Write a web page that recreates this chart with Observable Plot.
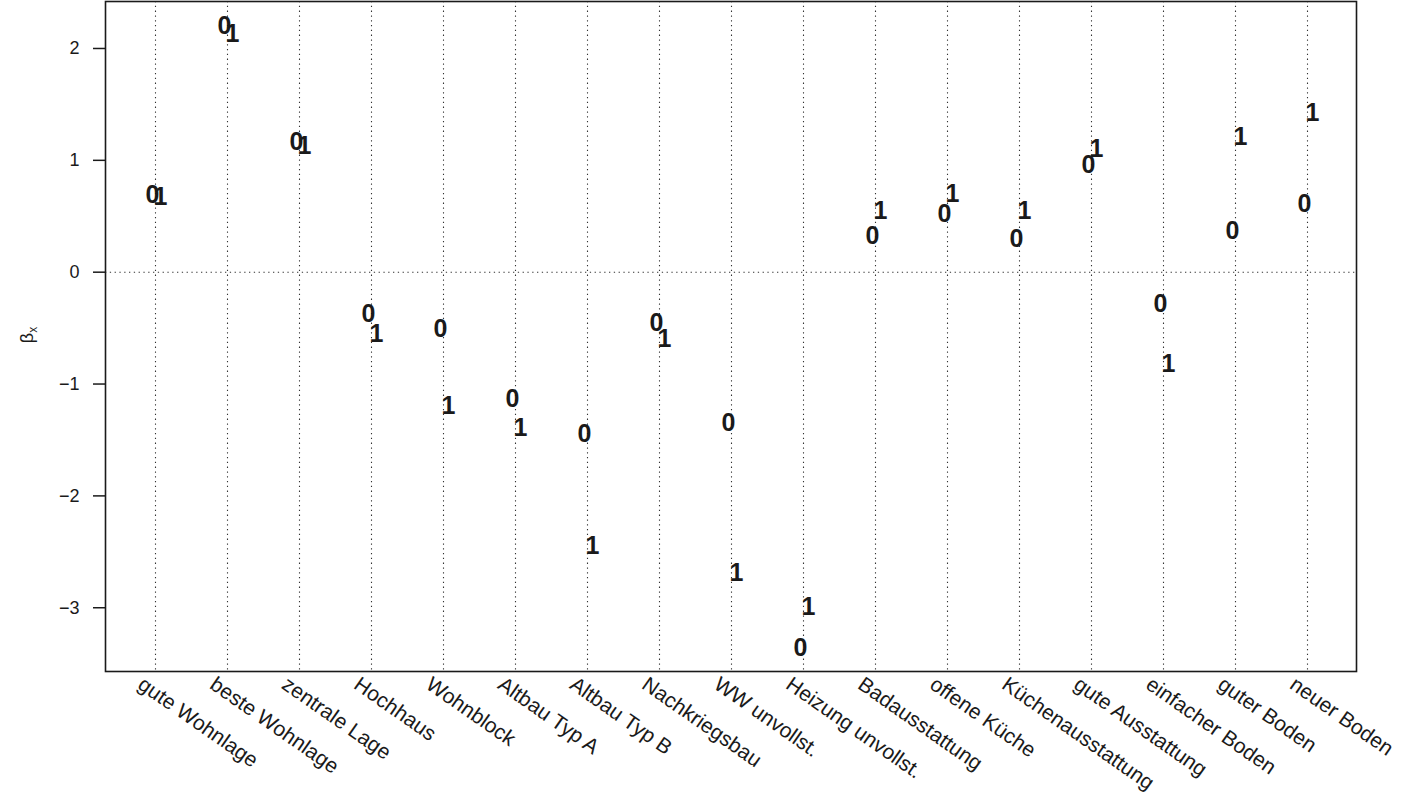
<!DOCTYPE html>
<html>
<head>
<meta charset="utf-8">
<script src="https://cdn.jsdelivr.net/npm/d3@7"></script>
<script src="https://cdn.jsdelivr.net/npm/@observablehq/plot@0.6"></script>
<style>
  html, body { margin: 0; padding: 0; background: #fff; }
  svg { display: block; }
</style>
</head>
<body>
<div id="chart"></div>
<script>
const categories = ["gute Wohnlage", "beste Wohnlage", "zentrale Lage", "Hochhaus", "Wohnblock",
  "Altbau Typ A", "Altbau Typ B", "Nachkriegsbau", "WW unvollst.", "Heizung unvollst.",
  "Badausstattung", "offene Küche", "Küchenausstattung", "gute Ausstattung",
  "einfacher Boden", "guter Boden", "neuer Boden"];
const values0 = [0.69, 2.20, 1.16, -0.375, -0.51, -1.13, -1.45, -0.455, -1.35, -3.36,
  0.32, 0.52, 0.30, 0.96, -0.28, 0.37, 0.61];
const values1 = [0.67, 2.13, 1.125, -0.55, -1.20, -1.39, -2.45, -0.60, -2.69, -2.99,
  0.545, 0.70, 0.545, 1.10, -0.82, 1.21, 1.42];
const yTicks = [-3, -2, -1, 0, 1, 2];
const yTickLabels = ["\u22123", "\u22122", "\u22121", "0", "1", "2"];
const yLabel = "β";
const yLabelSub = "x";

const rows0 = categories.map((c, i) => ({cat: c, value: values0[i], label: "0"}));
const rows1 = categories.map((c, i) => ({cat: c, value: values1[i], label: "1"}));
const tickRows = yTicks.map((v, i) => ({value: v, label: yTickLabels[i]}));

const ink = "#1a1a1a";
const font = "'Liberation Sans', Arial, Helvetica, sans-serif";

const plot = Plot.plot({
  width: 1406,
  height: 800,
  marginLeft: 105,
  marginRight: 50,
  marginTop: 1,
  marginBottom: 129,
  style: {fontFamily: font, color: ink, background: "#fff"},
  x: {type: "point", domain: categories, padding: 0.64, axis: null},
  y: {domain: [-3.57, 2.42], axis: null},
  marks: [
    Plot.ruleX(categories, {x: d => d, stroke: "#333", strokeWidth: 1.1, strokeDasharray: "1.3,3.5"}),
    Plot.ruleY([0], {stroke: "#333", strokeWidth: 1.1, strokeDasharray: "1.3,3.5"}),
    Plot.text(rows0, {x: "cat", y: "value", text: "label", dx: -3, fontSize: 25, fontWeight: "bold", fill: ink}),
    Plot.text(rows1, {x: "cat", y: "value", text: "label", dx: 5, fontSize: 25, fontWeight: "bold", fill: ink}),
    Plot.axisY({ticks: yTicks, tickSize: 12, text: null, label: null, stroke: ink, strokeWidth: 1.5}),
    Plot.text(tickRows, {y: "value", text: "label", frameAnchor: "left", textAnchor: "end",
      dx: -26, fontSize: 18, fill: ink}),
    Plot.text(categories, {x: d => d, frameAnchor: "bottom", rotate: 35, textAnchor: "start",
      dx: -19, dy: 16, fontSize: 21, fill: ink}),
    Plot.frame({stroke: ink, strokeWidth: 1.6})
  ]
});

document.getElementById("chart").appendChild(plot);

// y-axis label with subscript
const svg = d3.select(plot);
const t = svg.append("text")
  .attr("transform", "translate(33,335) rotate(-90)")
  .attr("text-anchor", "middle")
  .attr("font-size", 18)
  .attr("font-family", font)
  .attr("fill", ink);
t.append("tspan").text(yLabel);
t.append("tspan").attr("font-size", 12).attr("dy", 4).text(yLabelSub);
</script>
</body>
</html>
